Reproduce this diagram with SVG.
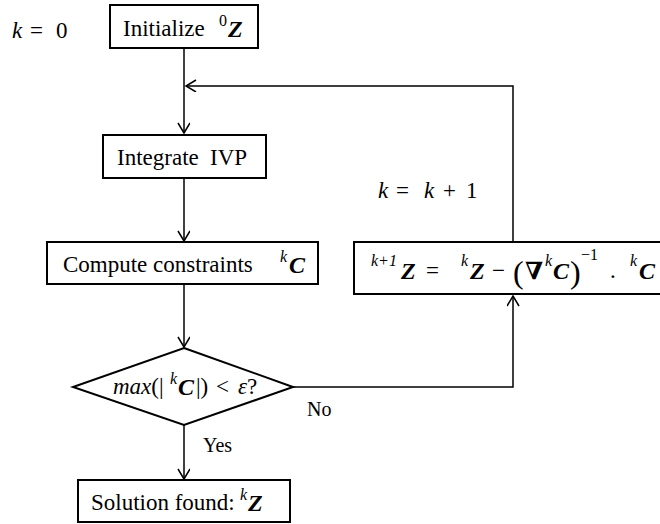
<svg xmlns="http://www.w3.org/2000/svg" width="660" height="524" viewBox="0 0 660 524">
  <style>
    .box { fill: #fff; stroke: #000; stroke-width: 2; }
    .wire { fill: none; stroke: #000; stroke-width: 1.5; }
    text { font-family: "Liberation Serif", "Times New Roman", "DejaVu Serif", serif; font-size: 23px; fill: #000; }
    .m { font-style: italic; }
    .b { font-style: italic; font-weight: bold; font-size: 24px; }
    .sup { font-size: 16px; font-style: italic; }
    .num { font-size: 16px; }
    .paren { font-size: 32px; }
    .lbl { font-size: 20px; }
  </style>
  <defs>
    <marker id="arrow" markerUnits="userSpaceOnUse" markerWidth="14" markerHeight="14" refX="11" refY="6" orient="auto">
      <path d="M1,0 L11,6 L1,12" fill="none" stroke="#000" stroke-width="1.5"/>
    </marker>
  </defs>

  <!-- loop counter labels -->
  <text y="38"><tspan class="m" x="12">k</tspan><tspan x="30">=</tspan><tspan x="56">0</tspan></text>
  <text y="198"><tspan class="m" x="378">k</tspan><tspan x="396">=</tspan><tspan class="m" x="424">k</tspan><tspan x="443">+</tspan><tspan x="466">1</tspan></text>

  <!-- connectors -->
  <g id="connectors">
    <line class="wire" x1="184" y1="48" x2="184" y2="133" marker-end="url(#arrow)"/>
    <polyline class="wire" points="513,242 513,86 186,86" marker-end="url(#arrow)"/>
    <line class="wire" x1="184" y1="178" x2="184" y2="241" marker-end="url(#arrow)"/>
    <line class="wire" x1="184" y1="284" x2="184" y2="347" marker-end="url(#arrow)"/>
    <line class="wire" x1="184" y1="425" x2="184" y2="479" marker-end="url(#arrow)"/>
    <polyline class="wire" points="293,387 513,387 513,296" marker-end="url(#arrow)"/>
    <text class="lbl" x="203" y="452">Yes</text>
    <text class="lbl" x="307" y="416">No</text>
  </g>

  <g id="init">
    <rect class="box" x="110" y="5" width="148" height="43"/>
    <text x="123" y="36">Initialize</text>
    <text class="num" x="219" y="26">0</text>
    <text class="b" x="228" y="37">Z</text>
  </g>

  <g id="integrate">
    <rect class="box" x="103" y="135" width="163" height="43"/>
    <text x="117" y="165">Integrate<tspan x="210">IVP</tspan></text>
  </g>

  <g id="constraints">
    <rect class="box" x="47" y="242" width="271" height="42"/>
    <text x="63" y="272">Compute constraints</text>
    <text class="sup" x="280" y="262">k</text>
    <text class="b" x="289" y="273">C</text>
  </g>

  <g id="check">
    <polygon class="box" points="184,348 293,387 184,425 73,387"/>
    <text x="113" y="394"><tspan class="m">max</tspan>(|</text>
    <text class="sup" x="170" y="384">k</text>
    <text class="b" x="178" y="395">C</text>
    <text y="394"><tspan x="196">|)</tspan><tspan x="216">&lt;</tspan><tspan class="m" x="238">ε</tspan>?</text>
  </g>

  <g id="update">
    <rect class="box" x="354" y="242" width="312" height="52"/>
    <text class="sup" x="371" y="266">k+1</text>
    <text class="b" x="401" y="279">Z</text>
    <text x="426" y="278">=</text>
    <text class="sup" x="461" y="266">k</text>
    <text class="b" x="470" y="279">Z</text>
    <text x="492" y="278">−</text>
    <text class="paren" x="513" y="283">(</text>
    <text class="b" x="525" y="279">∇</text>
    <text class="sup" x="545" y="266">k</text>
    <text class="b" x="553" y="279">C</text>
    <text class="paren" x="570" y="283">)</text>
    <text class="num" x="581" y="260">−1</text>
    <text x="610" y="278">.</text>
    <text class="sup" x="630" y="266">k</text>
    <text class="b" x="639" y="279">C</text>
  </g>

  <g id="solution">
    <rect class="box" x="78" y="480" width="212" height="42"/>
    <text x="91" y="510">Solution found:</text>
    <text class="sup" x="240" y="500">k</text>
    <text class="b" x="248" y="511">Z</text>
  </g>
</svg>
